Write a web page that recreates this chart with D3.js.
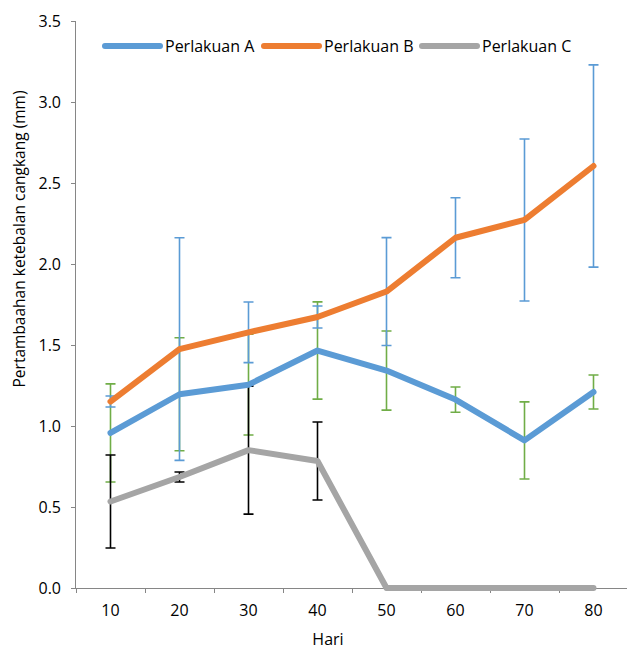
<!DOCTYPE html>
<html>
<head>
<meta charset="utf-8">
<script src="https://cdn.jsdelivr.net/npm/d3@7"></script>
<style>
  body { margin: 0; background: #fff; }
  svg text { font-family: "Open Sans", "Noto Sans", sans-serif; fill: #000; }
</style>
</head>
<body>
<svg id="chart" width="627" height="651"></svg>
<script>
// --- data ---
const days = [10, 20, 30, 40, 50, 60, 70, 80];
const seriesNames = ["Perlakuan A", "Perlakuan B", "Perlakuan C"];
const valuesA = [0.957, 1.196, 1.255, 1.466, 1.342, 1.163, 0.911, 1.21];
const valuesB = [1.151, 1.475, 1.578, 1.673, 1.83, 2.162, 2.272, 2.605];
const valuesC = [0.534, 0.685, 0.851, 0.784, 0, 0, 0, 0];
const errA = [0.303, 0.349, 0.311, 0.30, 0.244, 0.078, 0.238, 0.105];
const errB = [0.034, 0.687, 0.187, 0.068, 0.333, 0.247, 0.50, 0.624];
const errC = [0.287, 0.031, 0.395, 0.241, 0, 0, 0, 0];
const yTicks = [0, 0.5, 1.0, 1.5, 2.0, 2.5, 3.0, 3.5];

const lineColors = ["#5B9BD5", "#ED7D31", "#A5A5A5"];
const errColors = ["#70AD47", "#5B9BD5", "#000000"];   // excel put odd colours on the bars
const axisColor = "#868686";

const series = seriesNames.map((name, i) => ({
  name,
  values: [valuesA, valuesB, valuesC][i],
  errs: [errA, errB, errC][i],
  color: lineColors[i],
  errColor: errColors[i]
}));

const svg = d3.select("#chart");
const x = d3.scaleBand().domain(days).range([76, 628]);
const y = d3.scaleLinear().domain([0, 3.5]).range([588, 21]);
const cx = d => x(d) + x.bandwidth() / 2;

/* axes */
const yAxis = svg.append("g").attr("transform", "translate(76,0)")
  .call(d3.axisLeft(y).tickValues(yTicks).tickSize(5).tickPadding(10).tickFormat(d3.format(".1f")));
const xAxis = svg.append("g").attr("transform", "translate(0,588)")
  .call(d3.axisBottom(x).tickSize(0).tickPadding(17));

[yAxis, xAxis].forEach(a => {
  a.select(".domain").attr("stroke", axisColor);
  a.selectAll(".tick line").attr("stroke", axisColor);
  a.selectAll(".tick text").style("font-size", "16px");
});
yAxis.select(".domain").attr("d", `M-0.5,${y(3.5)}V${y(0)}`);
xAxis.select(".domain").attr("d", "M76,0.5H627");

// category boundary ticks on x
xAxis.append("g").selectAll("line")
  .data(days)
  .join("line")
    .attr("x1", d => Math.round(x(d)) + 0.5).attr("x2", d => Math.round(x(d)) + 0.5)
    .attr("y1", 0).attr("y2", 5)
    .attr("stroke", axisColor);

/* axis titles */
svg.append("text")
  .attr("x", 328).attr("y", 645)
  .attr("text-anchor", "middle")
  .style("font-size", "16px")
  .text("Hari");

svg.append("text")
  .attr("transform", "translate(25,239) rotate(-90)")
  .attr("text-anchor", "middle")
  .style("font-size", "15.5px")
  .text("Pertambaahan ketebalan cangkang (mm)");

/* error bars (under the lines) */
const capW = 5;
series.forEach(s => {
  const g = svg.append("g").attr("class", "errbars")
    .attr("stroke", s.errColor).attr("stroke-width", 1.6).attr("fill", "none");
  const pts = days.map((d, i) => ({ d, v: s.values[i], e: s.errs[i] })).filter(p => p.e > 0);
  g.selectAll("path")
    .data(pts)
    .join("path")
      .attr("d", p => {
        const px = cx(p.d), hi = y(p.v + p.e), lo = y(p.v - p.e);
        return `M${px},${hi}V${lo}M${px - capW},${hi}H${px + capW}M${px - capW},${lo}H${px + capW}`;
      });
});

/* lines */
const line = d3.line().x((v, i) => cx(days[i])).y(v => y(v));
svg.append("g").selectAll("path")
  .data(series)
  .join("path")
    .attr("d", s => line(s.values))
    .attr("fill", "none")
    .attr("stroke", s => s.color)
    .attr("stroke-width", 6)
    .attr("stroke-linejoin", "round")
    .attr("stroke-linecap", "round");

/* legend */
const legendX = [105, 264, 422];
const legend = svg.append("g").selectAll("g")
  .data(series)
  .join("g")
    .attr("transform", (s, i) => `translate(${legendX[i]},46)`);
legend.append("line")
  .attr("x1", 0).attr("x2", 55).attr("y1", 0).attr("y2", 0)
  .attr("stroke", s => s.color).attr("stroke-width", 6).attr("stroke-linecap", "round");
legend.append("text")
  .attr("x", 60).attr("y", 5.5)
  .style("font-size", "16px")
  .text(s => s.name);
</script>
</body>
</html>
